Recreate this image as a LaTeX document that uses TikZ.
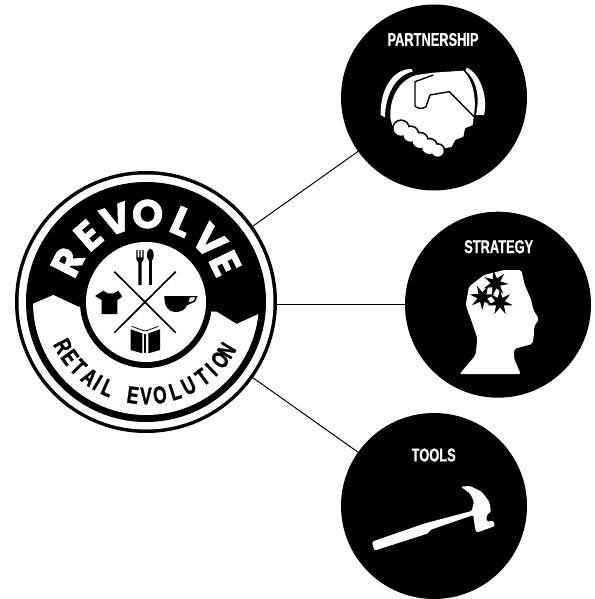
\documentclass[tikz,border=0pt]{standalone}
\usepackage{fontspec}
\usetikzlibrary{shapes.geometric}
\newfontfamily\labelfont[FakeStretch=0.69,FakeBold=0.6]{Liberation Sans}
\newfontfamily\ribbonfont[FakeStretch=0.72,FakeBold=1.2]{Liberation Sans}
\newfontfamily\badgefont[FakeBold=1.5]{Poppins}
\definecolor{colInk}{RGB}{0,0,0}
\tikzset{
  disc/.style={circle, fill=colInk, inner sep=0pt, outer sep=0pt, minimum size=186pt},
  topicLabel/.style={text=white, inner sep=0pt, font=\labelfont\bfseries\fontsize{18.6}{20}\selectfont},
  ringInk/.style={circle, fill=colInk, inner sep=0pt, outer sep=0pt},
  ringPaper/.style={circle, fill=white, inner sep=0pt, outer sep=0pt},
  bigLetter/.style={text=white, inner sep=0pt, font=\badgefont\bfseries\fontsize{40}{42}\selectfont},
  smallLetter/.style={text=colInk, inner sep=0pt, font=\ribbonfont\bfseries\fontsize{24}{26}\selectfont},
  starMark/.style={star, star points=7, star point ratio=2.6, fill=colInk, inner sep=0pt, minimum size=26pt},
  spoke/.style={line width=1pt, color=colInk}
}
\begin{document}
\begin{tikzpicture}[x=1pt,y=-1pt]
  \useasboundingbox (0,0) rectangle (594,599);

  % badge rings
  \node[ringInk, minimum size=262pt] (badge) at (146,302) {};
  \node[ringPaper, minimum size=255pt] (badgeGap) at (146,302) {};
  \node[ringInk, minimum size=240pt] (badgeInk) at (146,302) {};

  % ribbon
  \begin{scope}
    \clip (146,302) circle [radius=113pt];
    \begin{scope}[shift={(0,150)},scale=1/3]
      \fill[white] (50,482) -- (160,435) -- (235,470) -- (650,485) -- (710,522) -- (830,467) -- (830,860) -- (50,860) -- cycle;
    \end{scope}
  \end{scope}

  % centre medallion
  \node[ringInk, minimum size=132pt] (hubInk) at (146,302) {};
  \node[ringPaper, minimum size=120pt] (hub) at (146,302) {};

  % badge lettering
  \foreach \ang/\ch [count=\i] in {-63/R,-41/E,-20/V,1/O,24/L,46/V,64/E}
    \node[bigLetter, rotate=-\ang] (top\i) at ({146+88*sin(\ang)},{302-88*cos(\ang)}) {\ch};
  \foreach \ang/\ch [count=\i] in {-62/R,-54/E,-46/T,-37/A,-31/I,-24/L,-8/E,0/V,8.5/O,18/L,27/U,37/T,44/I,52/O,59/N}
    \node[smallLetter, rotate=\ang] (low\i) at ({146+94*sin(\ang)},{302+94*cos(\ang)}) {\ch};

  % medallion icons
  \begin{scope}[shift={(85,240)},scale=1/3]
    \draw[colInk, line width=1.7pt] (88,95) -- (272,278);
    \draw[colInk, line width=1.7pt] (272,95) -- (88,278);
    % fork and spoon
    \fill[colInk] (154,30) -- (158,30) -- (158,52) -- (163,52) -- (163,30) -- (167,30) -- (167,52) -- (172,52) -- (172,30) -- (176,30) -- (176,58) -- (170,68) -- (170,135) -- (160,135) -- (160,68) -- (154,58) -- cycle;
    \fill[colInk] (196,45) ellipse [x radius=10, y radius=19];
    \fill[colInk] (191,55) rectangle (200,135);
    % shirt
    \fill[colInk] (30,168) -- (55,152) -- (68,160) -- (87,160) -- (100,152) -- (112,170) -- (97,180) -- (97,222) -- (50,222) -- (50,180) -- cycle;
    % cup
    \fill[colInk] (238,168) -- (338,168) -- (330,185) -- (306,196) .. controls (300,212) and (285,216) .. (270,216) .. controls (250,216) and (238,200) .. (238,168) -- cycle;
    \fill[white] (315,172) -- (331,172) -- (325,182) -- (311,187) -- cycle;
    % book
    \fill[colInk] (137,268) -- (172,280) -- (172,340) -- (137,330) -- cycle;
    \fill[colInk] (225,268) -- (190,280) -- (190,340) -- (225,330) -- cycle;
    \fill[colInk] (178,282) rectangle (184,340);
    \draw[colInk, line width=0.8pt] (140,259) -- (176,272) -- (186,272) -- (220,259);
  \end{scope}

  % topic circles
  \node[disc] (partnership) at (434,97.5) {};
  \node[disc] (strategy) at (498,304.7) {};
  \node[disc] (tools) at (434,506) {};

  % connectors
  \draw[spoke] (badge) -- (partnership);
  \draw[spoke] (badge.east |- strategy) -- (strategy);
  \draw[spoke] (badge) -- (tools);

  % topic labels
  \node[topicLabel] (partnershipText) at (433,39.5) {PARTNERSHIP};
  \node[topicLabel] (strategyText) at (498.7,246.7) {STRATEGY};
  \node[topicLabel] (toolsText) at (433.7,455) {TOOLS};

  % handshake
  \begin{scope}[shift={(320,0)},scale=1/3]
    \fill[white] (275,207) .. controls (225,205) and (180,260) .. (182,345) -- (195,352) .. controls (195,290) and (225,225) .. (278,215) -- cycle;
    \fill[white] (440,203) .. controls (480,220) and (505,290) .. (492,345) -- (468,345) .. controls (480,290) and (470,240) .. (437,212) -- cycle;
    \fill[white] (212,360) .. controls (205,300) and (235,240) .. (290,225) -- (340,218) -- (430,212) .. controls (458,240) and (470,290) .. (462,345) -- (458,375) -- (435,385) -- (430,410) -- (405,420) -- (395,440) -- (375,445) -- (372,465) -- (345,470) -- (300,440) -- (225,400) -- cycle;
    \draw[colInk, line width=1.4pt, line join=round] (340,225) -- (285,245) -- (285,318) .. controls (290,326) and (310,328) .. (318,320) -- (330,285) -- (388,275) -- (462,350);
    \foreach \cx/\cy/\cr in {243/385/22,272/403/22,300/422/22,328/440/22,353/452/18}
      \fill[colInk] (\cx,\cy) circle [radius=\cr+5];
    \foreach \cx/\cy/\cr in {243/385/22,272/403/22,300/422/22,328/440/22,353/452/18}
      \fill[white] (\cx,\cy) circle [radius=\cr];
  \end{scope}

  % head
  \begin{scope}[shift={(394,195)},scale=1/3]
    \fill[white, rounded corners=2pt] (197,537) -- (380,537) -- (360,490) -- (360,462) -- (385,455) -- (415,447) -- (420,420) -- (420,395) -- (435,372) -- (418,345) -- (412,315) -- (392,270) -- (382,225) -- (330,225) -- (270,240) -- (225,275) -- (215,330) -- (235,385) -- (250,430) -- (245,480) -- cycle;
    \node[starMark, rotate=10] (starA) at (305,265) {};
    \node[starMark, rotate=25] (starB) at (265,307) {};
    \node[starMark, rotate=0] (starC) at (318,322) {};
  \end{scope}

  % hammer
  \begin{scope}[shift={(330,400)},scale=1/3]
    \fill[white, rounded corners=1.5pt] (126,425) -- (285,370) -- (425,333) -- (432,305) -- (420,280) -- (392,260) -- (420,258) -- (455,275) -- (478,305) -- (483,335) -- (470,345) -- (470,365) -- (490,362) -- (495,378) -- (440,398) -- (435,385) -- (430,345) -- (300,390) -- (295,400) -- (133,452) -- cycle;
  \end{scope}
\end{tikzpicture}
\end{document}
